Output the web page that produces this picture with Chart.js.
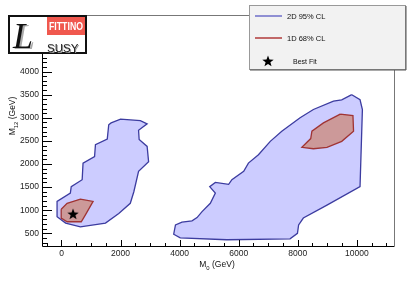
<!DOCTYPE html>
<html>
<head>
<meta charset="utf-8">
<script src="https://cdn.jsdelivr.net/npm/chart.js@4.4.1/dist/chart.umd.min.js"></script>
<style>
  html, body { margin: 0; padding: 0; background: #fff; }
</style>
</head>
<body>
<canvas id="fitChart" width="415" height="281"></canvas>
<script>
// ----------------- DATA (M0, M12 in GeV) -----------------
const blueLeftM0  = [1680, 2000, 2670, 2900, 2610, 2630, 2900, 2950, 2610, 2450, 2330, 1940, 1490, 640, 140, -150, -150, 300, 330, 700, 730, 1120, 1150, 1550, 1600];
const blueLeftM12 = [2890, 2970, 2940, 2870, 2730, 2530, 2380, 2050, 1840, 1400, 1150, 930, 720, 640, 720, 860, 1190, 1370, 1510, 1660, 2020, 2160, 2420, 2540, 2850];

const blueRightM0  = [9830, 10110, 10190, 10110, 8990, 8190, 8030, 7990, 7740, 5600, 4020, 3800, 3860, 4080, 4420, 4590, 4760, 5040, 5210, 5020, 5210, 5660, 5770, 6170, 6330, 6670, 7070, 7460, 8080, 8530, 9210, 9490];
const blueRightM12 = [3500, 3390, 3180, 1510, 1110, 830, 680, 500, 380, 360, 400, 480, 680, 740, 770, 840, 970, 1150, 1370, 1510, 1600, 1560, 1660, 1840, 2020, 2200, 2490, 2710, 3000, 3180, 3360, 3390];

const redLeftM0  = [-10, 190, 640, 1070, 810, 670, 190, -10];
const redLeftM12 = [1020, 1150, 1240, 1190, 900, 750, 750, 830];

const redRightM0  = [9440, 9870, 9890, 9490, 8990, 8530, 8140, 8440, 8480, 8870];
const redRightM12 = [3080, 3050, 2710, 2490, 2360, 2330, 2360, 2550, 2710, 2890];

const bestFitM0  = [390];
const bestFitM12 = [920];

const xTicks = [0, 2000, 4000, 6000, 8000, 10000];
const yTicks = [500, 1000, 1500, 2000, 2500, 3000, 3500, 4000, 4500, 5000];

const legendLabels = ["2D 95% CL", "1D 68% CL", "Best Fit"];

const BLUE_LINE = "#3c3ca0";
const BLUE_FILL = "#ccccff";
const RED_LINE = "#a03434";
const RED_FILL = "#cc9999";

function toPoints(xs, ys) {
  const pts = xs.map((x, i) => ({ x: x, y: ys[i] }));
  pts.push(pts[0]); // close the contour
  return pts;
}

function makeStar(size, color) {
  const c = document.createElement("canvas");
  c.width = size; c.height = size;
  const g = c.getContext("2d");
  const cx = size / 2, cy = size / 2 + 0.5, R = size / 2, r = R * 0.42;
  g.beginPath();
  for (let i = 0; i < 10; i++) {
    const a = -Math.PI / 2 + i * Math.PI / 5;
    const rad = i % 2 ? r : R;
    g.lineTo(cx + rad * Math.cos(a), cy + rad * Math.sin(a));
  }
  g.closePath();
  g.fillStyle = color;
  g.fill();
  return c;
}
const starImg = makeStar(12, "#000");

function contour(label, xs, ys, line, fillc) {
  return {
    label: label,
    data: toPoints(xs, ys),
    borderColor: line,
    backgroundColor: fillc,
    borderWidth: 1.3,
    fill: "shape",
    pointRadius: 0,
    tension: 0
  };
}

// ----------------- FRAME, TICKS, LEGEND, LOGO -----------------
const rootStyle = {
  id: "rootStyle",
  afterDraw(chart) {
    const ctx = chart.ctx;
    const a = chart.chartArea;
    const xs = chart.scales.x, ys = chart.scales.y;
    ctx.save();

    // frame
    ctx.lineWidth = 1;
    ctx.strokeStyle = "#777";
    ctx.beginPath();
    ctx.moveTo(a.left, a.top + 0.5); ctx.lineTo(a.right + 0.5, a.top + 0.5);
    ctx.lineTo(a.right + 0.5, a.bottom);
    ctx.stroke();
    ctx.strokeStyle = "#000";
    ctx.beginPath();
    ctx.moveTo(a.left + 0.5, a.top); ctx.lineTo(a.left + 0.5, a.bottom + 0.5);
    ctx.lineTo(a.right + 0.5, a.bottom + 0.5);
    ctx.stroke();

    // ticks (inside)
    ctx.beginPath();
    for (let v = 300; v <= ys.max; v += 100) {
      const py = Math.round(ys.getPixelForValue(v)) + 0.5;
      const len = v % 500 === 0 ? 10 : 5;
      ctx.moveTo(a.left, py); ctx.lineTo(a.left + len, py);
    }
    for (let v = -500; v <= xs.max; v += 500) {
      const px = Math.round(xs.getPixelForValue(v)) + 0.5;
      const len = v % 2000 === 0 ? 6 : 3;
      ctx.moveTo(px, a.bottom); ctx.lineTo(px, a.bottom - len);
    }
    ctx.stroke();

    // axis titles
    ctx.fillStyle = "#111";
    ctx.textBaseline = "alphabetic";
    function subTitle(main, sub, rest, size) {
      ctx.font = size + "px 'Liberation Sans'";
      const w1 = ctx.measureText(main).width;
      const w3 = ctx.measureText(rest).width;
      ctx.font = (size * 0.7) + "px 'Liberation Sans'";
      const w2 = ctx.measureText(sub).width;
      const total = w1 + w2 + w3;
      let x = -total / 2;
      ctx.font = size + "px 'Liberation Sans'";
      ctx.textAlign = "left";
      ctx.fillText(main, x, 0);
      ctx.font = (size * 0.7) + "px 'Liberation Sans'";
      ctx.fillText(sub, x + w1, size * 0.3);
      ctx.font = size + "px 'Liberation Sans'";
      ctx.fillText(rest, x + w1 + w2, 0);
    }
    ctx.save();
    ctx.translate(217, 267);
    subTitle("M", "0", " (GeV)", 8.5);
    ctx.restore();
    ctx.save();
    ctx.translate(15, 116);
    ctx.rotate(-Math.PI / 2);
    subTitle("M", "12", " (GeV)", 8.5);
    ctx.restore();

    // legend box
    const lx = 249, ly = 5, lw = 156, lh = 64;
    ctx.fillStyle = "#f2f2f2";
    ctx.fillRect(lx, ly, lw, lh);
    ctx.strokeStyle = "#999";
    ctx.strokeRect(lx + 0.5, ly + 0.5, lw, lh);
    ctx.strokeStyle = "#555";
    ctx.beginPath();
    ctx.moveTo(lx + lw + 1, ly + 1); ctx.lineTo(lx + lw + 1, ly + lh + 1); ctx.lineTo(lx + 1, ly + lh + 1);
    ctx.stroke();

    ctx.lineWidth = 1.5;
    ctx.strokeStyle = "#6e6ec8";
    ctx.beginPath(); ctx.moveTo(255, 16); ctx.lineTo(282, 16); ctx.stroke();
    ctx.strokeStyle = "#b03a3a";
    ctx.beginPath(); ctx.moveTo(255, 38); ctx.lineTo(282, 38); ctx.stroke();
    ctx.drawImage(starImg, 262, 55);
    ctx.fillStyle = "#111";
    ctx.textAlign = "left";
    ctx.textBaseline = "middle";
    ctx.font = "7.5px 'Liberation Sans'";
    ctx.fillText(legendLabels[0], 287, 16.5);
    ctx.fillText(legendLabels[1], 287, 38.5);
    ctx.font = "7px 'Liberation Sans'";
    ctx.fillText(legendLabels[2], 293, 62);

    // logo
    ctx.fillStyle = "#fff";
    ctx.fillRect(8, 15, 79, 39);
    ctx.lineWidth = 2;
    ctx.strokeStyle = "#111";
    ctx.strokeRect(9, 16, 77, 37);
    ctx.fillStyle = "#f0584e";
    ctx.fillRect(47, 17, 38, 18);
    ctx.fillStyle = "#fff";
    ctx.textAlign = "center";
    ctx.textBaseline = "middle";
    ctx.font = "bold 11px 'Liberation Sans'";
    ctx.fillText("FITTINO", 66, 26.5, 34);
    ctx.font = "italic 36px 'Liberation Serif'";
    ctx.textAlign = "left";
    ctx.textBaseline = "alphabetic";
    ctx.fillStyle = "#aaa";
    ctx.fillText("L", 15, 49);
    ctx.fillStyle = "#111";
    ctx.fillText("L", 13, 47.5);
    ctx.font = "11.5px 'Liberation Sans'";
    ctx.fillStyle = "#999";
    ctx.fillText("SUSY", 48, 52.5, 33);
    ctx.fillStyle = "#222";
    ctx.fillText("SUSY", 47, 51.5, 33);

    ctx.restore();
  }
};

// ----------------- CHART -----------------
Chart.defaults.font.family = "'Liberation Sans'";
Chart.defaults.font.size = 8.5;
Chart.defaults.color = "#222";

new Chart(document.getElementById("fitChart"), {
  type: "line",
  data: {
    datasets: [
      {
        label: legendLabels[2],
        data: bestFitM0.map((x, i) => ({ x: x, y: bestFitM12[i] })),
        showLine: false,
        pointStyle: starImg,
        pointRadius: 6
      },
      contour(legendLabels[1], redLeftM0, redLeftM12, RED_LINE, RED_FILL),
      contour(legendLabels[1], redRightM0, redRightM12, RED_LINE, RED_FILL),
      contour(legendLabels[0], blueLeftM0, blueLeftM12, BLUE_LINE, BLUE_FILL),
      contour(legendLabels[0], blueRightM0, blueRightM12, BLUE_LINE, BLUE_FILL)
    ]
  },
  options: {
    responsive: false,
    animation: false,
    devicePixelRatio: 1,
    layout: { padding: { left: 0, top: 15, right: 21, bottom: 0 } },
    plugins: { legend: { display: false }, tooltip: { enabled: false } },
    scales: {
      x: {
        type: "linear",
        min: -660,
        max: 11260,
        grid: { display: false, drawTicks: false },
        border: { display: false },
        afterBuildTicks: s => { s.ticks = xTicks.map(v => ({ value: v })); },
        afterFit: s => { s.height = 35; },
        ticks: { padding: 3, maxRotation: 0, callback: v => String(v) }
      },
      y: {
        type: "linear",
        min: 225,
        max: 5225,
        grid: { display: false, drawTicks: false },
        border: { display: false },
        afterBuildTicks: s => { s.ticks = yTicks.map(v => ({ value: v })); },
        afterFit: s => { s.width = 42; },
        ticks: { padding: 3, callback: v => String(v) }
      }
    }
  },
  plugins: [rootStyle]
});
</script>
</body>
</html>
